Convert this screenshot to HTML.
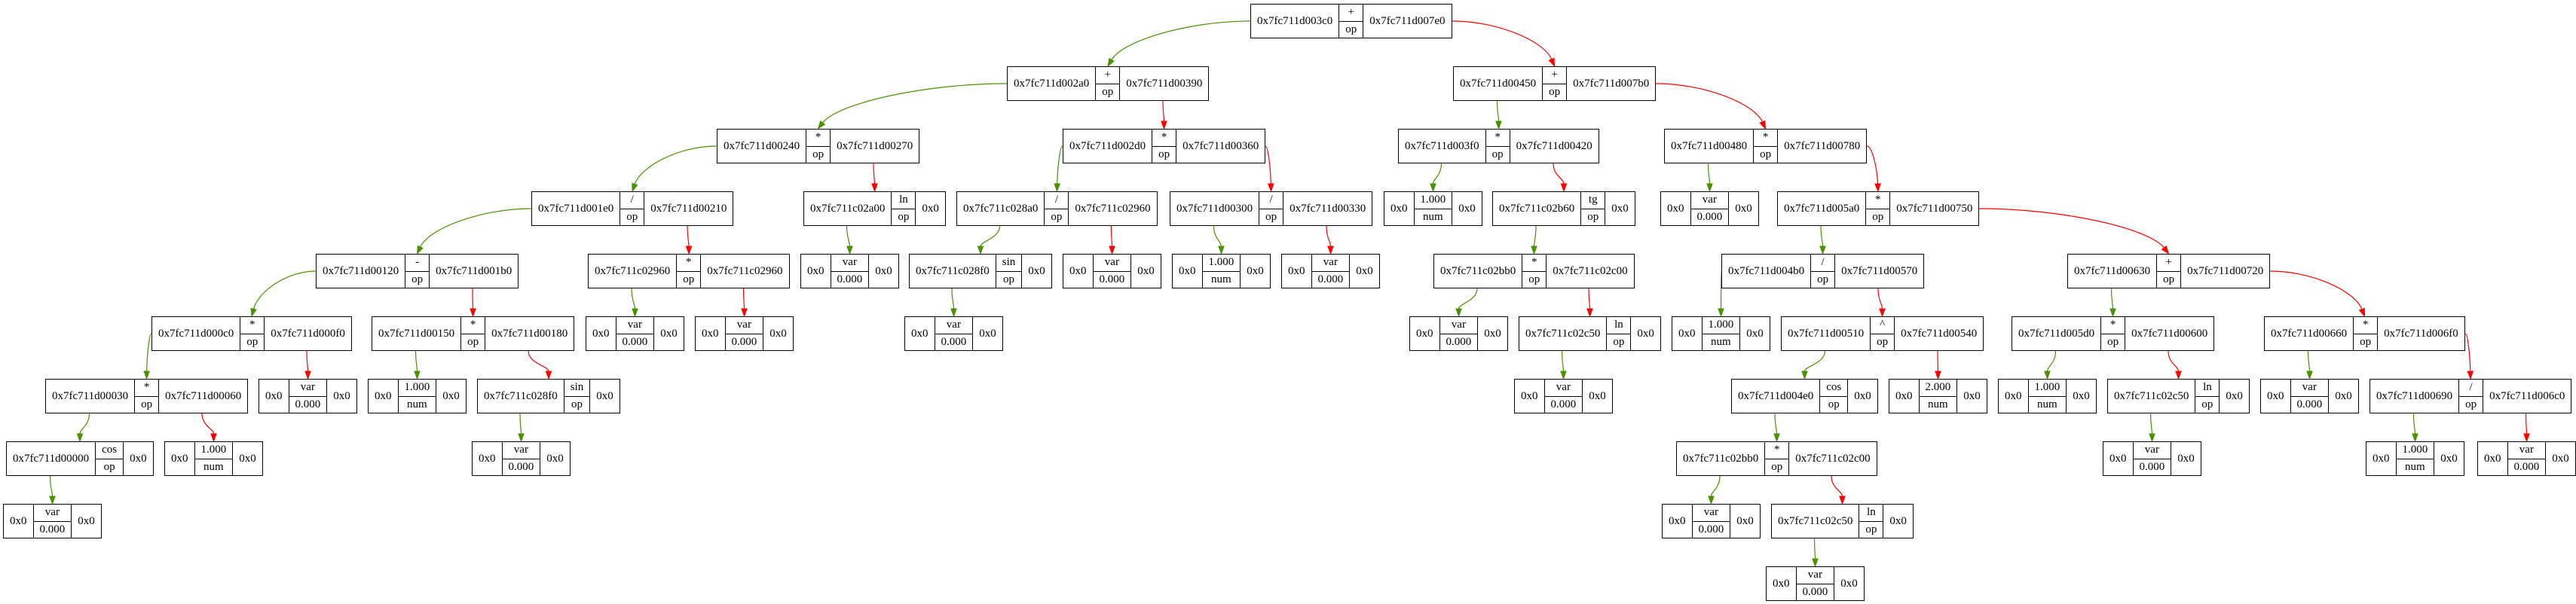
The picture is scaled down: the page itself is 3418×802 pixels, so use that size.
<!DOCTYPE html>
<html><head><meta charset="utf-8">
<style>
html,body{margin:0;padding:0;background:#fff;}
#c{position:relative;width:3418px;height:802px;overflow:hidden;background:#fff;font-family:"Liberation Serif","Times New Roman",serif;font-size:15px;color:#000;}
.n{position:absolute;display:flex;height:46px;box-sizing:border-box;border:1px solid #000;background:#fff;white-space:nowrap;}
.f{display:flex;align-items:center;justify-content:center;padding:0 8px;border-left:1px solid #000;}
.f:first-child{border-left:none;}
.m{display:flex;flex-direction:column;border-left:1px solid #000;}
.m div{flex:1;display:flex;align-items:center;justify-content:center;padding:0 8px;}
.m div+div{border-top:1px solid #000;}
svg{position:absolute;left:0;top:0;}
</style></head><body>
<div id="c"></div>
<script>
var P='0x7fc711';
var N=[
[0,1659,P+'d003c0','+','op',P+'d007e0',1,2],
[1,1336,P+'d002a0','+','op',P+'d00390',3,4],
[1,1928,P+'d00450','+','op',P+'d007b0',5,6],
[2,951,P+'d00240','*','op',P+'d00270',7,8],
[2,1410,P+'d002d0','*','op',P+'d00360',9,10],
[2,1855,P+'d003f0','*','op',P+'d00420',11,12],
[2,2208,P+'d00480','*','op',P+'d00780',13,14],
[3,705,P+'d001e0','/','op',P+'d00210',15,16],
[3,1066,P+'c02a00','ln','op','0x0',17,-1],
[3,1269,P+'c028a0','/','op',P+'c02960',18,19],
[3,1552,P+'d00300','/','op',P+'d00330',20,21],
[3,1836,'0x0','1.000','num','0x0',-1,-1],
[3,1980,P+'c02b60','tg','op','0x0',22,-1],
[3,2203,'0x0','var','0.000','0x0',-1,-1],
[3,2358,P+'d005a0','*','op',P+'d00750',23,24],
[4,419,P+'d00120','-','op',P+'d001b0',25,26],
[4,780,P+'c02960','*','op',P+'c02960',27,28],
[4,1062,'0x0','var','0.000','0x0',-1,-1],
[4,1206,P+'c028f0','sin','op','0x0',29,-1],
[4,1410,'0x0','var','0.000','0x0',-1,-1],
[4,1555,'0x0','1.000','num','0x0',-1,-1],
[4,1700,'0x0','var','0.000','0x0',-1,-1],
[4,1902,P+'c02bb0','*','op',P+'c02c00',30,31],
[4,2284,P+'d004b0','/','op',P+'d00570',32,33],
[4,2743,P+'d00630','+','op',P+'d00720',34,35],
[5,201,P+'d000c0','*','op',P+'d000f0',36,37],
[5,493,P+'d00150','*','op',P+'d00180',38,39],
[5,777,'0x0','var','0.000','0x0',-1,-1],
[5,922,'0x0','var','0.000','0x0',-1,-1],
[5,1200,'0x0','var','0.000','0x0',-1,-1],
[5,1870,'0x0','var','0.000','0x0',-1,-1],
[5,2015,P+'c02c50','ln','op','0x0',40,-1],
[5,2218,'0x0','1.000','num','0x0',-1,-1],
[5,2363,P+'d00510','^','op',P+'d00540',41,42],
[5,2669,P+'d005d0','*','op',P+'d00600',43,44],
[5,3004,P+'d00660','*','op',P+'d006f0',45,46],
[6,60,P+'d00030','*','op',P+'d00060',47,48],
[6,343,'0x0','var','0.000','0x0',-1,-1],
[6,488,'0x0','1.000','num','0x0',-1,-1],
[6,633,P+'c028f0','sin','op','0x0',49,-1],
[6,2009,'0x0','var','0.000','0x0',-1,-1],
[6,2297,P+'d004e0','cos','op','0x0',50,-1],
[6,2506,'0x0','2.000','num','0x0',-1,-1],
[6,2651,'0x0','1.000','num','0x0',-1,-1],
[6,2796,P+'c02c50','ln','op','0x0',51,-1],
[6,2999,'0x0','var','0.000','0x0',-1,-1],
[6,3144,P+'d00690','/','op',P+'d006c0',52,53],
[7,8,P+'d00000','cos','op','0x0',54,-1],
[7,218,'0x0','1.000','num','0x0',-1,-1],
[7,626,'0x0','var','0.000','0x0',-1,-1],
[7,2224,P+'c02bb0','*','op',P+'c02c00',55,56],
[7,2790,'0x0','var','0.000','0x0',-1,-1],
[7,3139,'0x0','1.000','num','0x0',-1,-1],
[7,3287,'0x0','var','0.000','0x0',-1,-1],
[8,4,'0x0','var','0.000','0x0',-1,-1],
[8,2205,'0x0','var','0.000','0x0',-1,-1],
[8,2350,P+'c02c50','ln','op','0x0',57,-1],
[9,2343,'0x0','var','0.000','0x0',-1,-1]
];
var c=document.getElementById('c');
var els=[];
N.forEach(function(d){
  var e=document.createElement('div');e.className='n';
  e.style.left=d[1]+'px';e.style.top=(5+83*d[0])+'px';
  e.innerHTML='<div class="f">'+d[2]+'</div><div class="m"><div>'+d[3]+'</div><div>'+d[4]+'</div></div><div class="f">'+d[5]+'</div>';
  c.appendChild(e);els.push(e);
});
var s='';
function box(e){return {l:e.offsetLeft,t:e.offsetTop,w:e.offsetWidth,h:e.offsetHeight};}
function edge(pi,fi,ci,col){
  var pe=els[pi],pb=box(pe),cb=box(els[ci]);
  var f=pe.children[fi];
  var fx=pb.l+f.offsetLeft+f.offsetWidth/2, my=pb.t+pb.h/2, bot=pb.t+pb.h;
  var tx=cb.l+cb.w/2, ty=cb.t;
  var sx,sy,c1x,c1y,c2x,c2y;
  if(fi===0 && tx<pb.l+4){
    sx=pb.l;sy=my;var dx=sx-tx;c1x=sx-dx*0.45;c1y=sy;c2x=tx+dx*0.1;c2y=ty-(ty-sy)*0.55;
  } else if(fi===2 && tx>pb.l+pb.w-4){
    sx=pb.l+pb.w;sy=my;var dx=tx-sx;c1x=sx+dx*0.45;c1y=sy;c2x=tx-dx*0.1;c2y=ty-(ty-sy)*0.55;
  } else {
    sx=fx;sy=bot;var dy=ty-sy;c1x=sx;c1y=sy+dy*0.45;c2x=tx;c2y=ty-dy*0.45;
  }
  var vx=tx-c2x,vy=ty-c2y,L=Math.sqrt(vx*vx+vy*vy)||1;vx/=L;vy/=L;
  var bx=tx-vx*10,by=ty-vy*10;
  s+='<path d="M'+sx+','+sy+' C'+c1x+','+c1y+' '+c2x+','+c2y+' '+bx+','+by+'" fill="none" stroke="'+col+'" stroke-width="1.2"/>';
  var px=-vy*3.6,py=vx*3.6;
  s+='<polygon points="'+tx+','+ty+' '+(bx+px)+','+(by+py)+' '+(bx-px)+','+(by-py)+'" fill="'+col+'" stroke="'+col+'"/>';
}
N.forEach(function(d,i){
  if(d[6]>=0)edge(i,0,d[6],'#4a9200');
  if(d[7]>=0)edge(i,2,d[7],'#ff0000');
});
var sv=document.createElementNS('http://www.w3.org/2000/svg','svg');
sv.setAttribute('width','3418');sv.setAttribute('height','802');
sv.innerHTML=s;c.insertBefore(sv,c.firstChild);
</script>
</body></html>
